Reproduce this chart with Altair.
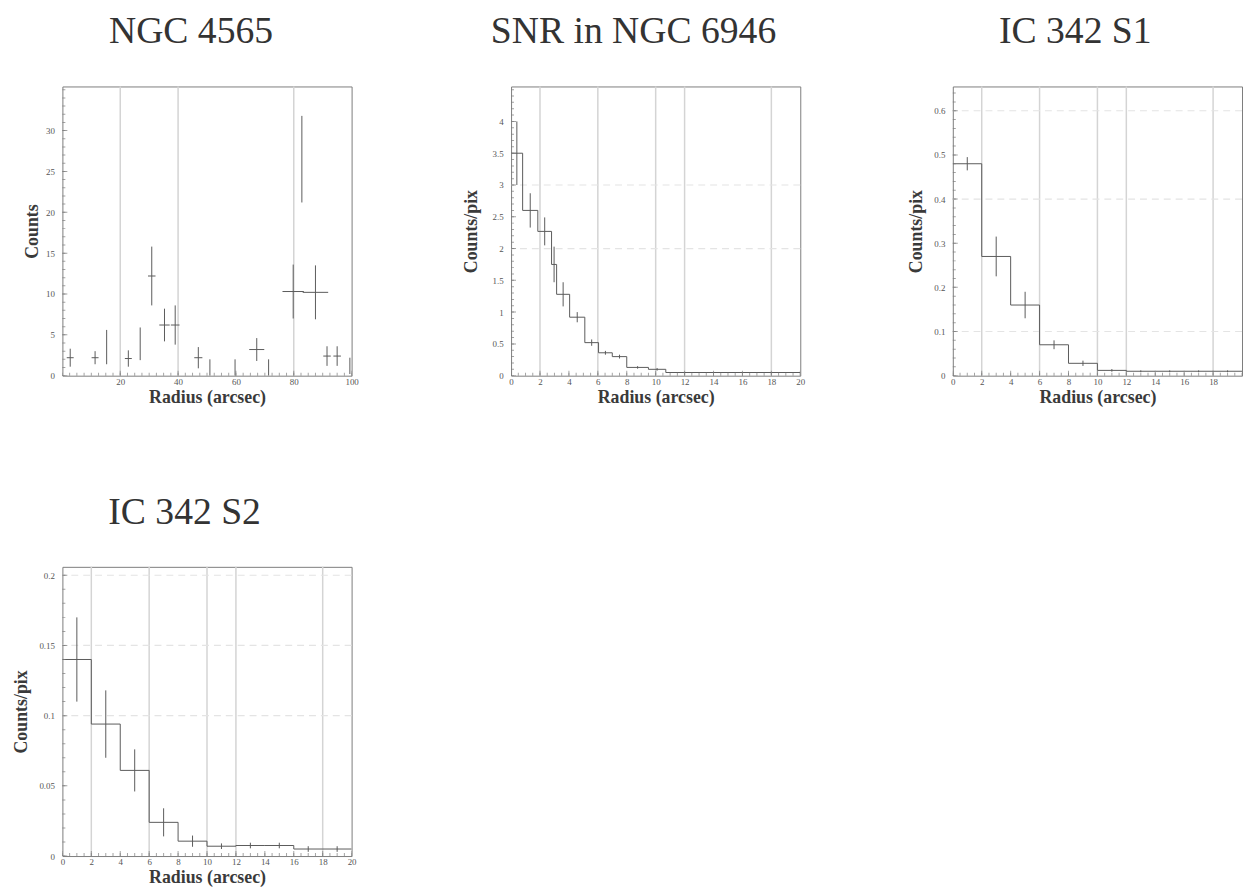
import altair as alt
import pandas as pd

SERIF = "Liberation Serif"
LINE = "#5a5a5a"
FRAME = "#7c7c7c"
GRIDC = "#d4d4d4"

# ---------------- NGC 4565 : counts per annulus ----------------
ngc4565_r   = [2.7, 11.3, 15.3, 22.8, 26.9, 30.9, 35.3, 39.0, 47.0, 51.0, 59.7,
               67.2, 71.3, 79.8, 82.8, 87.5, 91.5, 95.0, 99.4]
ngc4565_hw  = [1.2, 1.2, 0.0, 1.2, 0.0, 1.3, 1.8, 1.5, 1.4, 0.0, 0.0,
               2.6, 0.0, 3.7, 0.0, 4.4, 1.3, 1.3, 0.0]
ngc4565_cts = [2.2, 2.2, 3.5, 2.1, 3.9, 12.2, 6.2, 6.2, 2.2, 1.0, 1.0,
               3.2, 1.0, 10.3, 26.5, 10.2, 2.4, 2.4, 1.2]
ngc4565_err = [1.1, 0.8, 2.1, 1.0, 2.0, 3.6, 2.0, 2.4, 1.3, 1.0, 1.0,
               1.4, 1.0, 3.3, 5.3, 3.3, 1.2, 1.2, 1.0]

# ---------------- SNR in NGC 6946 : counts/pix ----------------
snr_lo  = [0.0, 0.8, 1.85, 2.8, 3.15, 4.05, 5.1, 6.05, 7.0, 8.0, 9.5, 10.7]
snr_hi  = [0.8, 1.85, 2.8, 3.15, 4.05, 5.1, 6.05, 7.0, 8.0, 9.5, 10.7, 20.0]
snr_val = [3.5, 2.6, 2.27, 1.75, 1.28, 0.92, 0.52, 0.36, 0.30, 0.13, 0.10, 0.05]
snr_err = [0.5, 0.27, 0.22, 0.28, 0.19, 0.08, 0.05, 0.03, 0.03, 0.02, 0.02, 0.005]

# ---------------- IC 342 sources : 2" annuli ----------------
ic342_lo = [0, 2, 4, 6, 8, 10, 12, 14, 16, 18]
ic342_hi = [2, 4, 6, 8, 10, 12, 14, 16, 18, 20]
s1_val = [0.48, 0.27, 0.16, 0.07, 0.028, 0.012, 0.010, 0.010, 0.010, 0.010]
s1_err = [0.015, 0.045, 0.03, 0.01, 0.006, 0.003, 0.002, 0.002, 0.002, 0.002]
s2_val = [0.14, 0.094, 0.061, 0.024, 0.0106, 0.007, 0.0075, 0.0075, 0.005, 0.005]
s2_err = [0.03, 0.024, 0.015, 0.01, 0.004, 0.002, 0.002, 0.002, 0.002, 0.002]

# tick labels
ngc4565_xt = [20, 40, 60, 80, 100]
ngc4565_yt = [0, 5, 10, 15, 20, 25, 30]
r20_xt = [0, 2, 4, 6, 8, 10, 12, 14, 16, 18, 20]
snr_yt = [0, 0.5, 1, 1.5, 2, 2.5, 3, 3.5, 4]
s1_yt = [0, 0.1, 0.2, 0.3, 0.4, 0.5, 0.6]
s2_yt = [0, 0.05, 0.1, 0.15, 0.2]

# faint reference lines of the plotting grid
ngc4565_gx = [20, 40, 80]
r20_gx = [2, 6, 10, 12, 18]
snr_gy = [2, 3]
s1_gy = [0.1, 0.4, 0.6]
s2_gy = [0.1, 0.15, 0.2]

W, H = 292, 292


def minor_ticks(lo, hi, step):
    n = int(round((hi - lo) / step))
    return [round(lo + i * step, 6) for i in range(n + 1)]


def panel(title, ytitle, lo, hi, val, err, mid, xdom, ydom, xt, yt,
          xminor, yminor, gx, gy, steps, ytitle_pad):
    df = pd.DataFrame({"lo": lo, "hi": hi, "val": val, "err": err, "mid": mid})
    df["ylo"] = (df["val"] - df["err"]).clip(lower=0)
    df["yhi"] = df["val"] + df["err"]

    xs = alt.Scale(domain=xdom, nice=False, zero=False)
    ys = alt.Scale(domain=ydom, nice=False, zero=False)
    xax = alt.Axis(values=xt, format="~r", ticks=False, domain=False, grid=False,
                   labelFont=SERIF, labelFontSize=9, labelColor="#555",
                   labelPadding=2, labelFlush=False, labelOverlap=False,
                   title="Radius (arcsec)", titleFont=SERIF, titleFontSize=18,
                   titleFontWeight="bold", titleColor="#3a3a3a", titlePadding=2)
    yax = alt.Axis(values=yt, format="~r", ticks=False, domain=False, grid=False,
                   labelFont=SERIF, labelFontSize=9, labelColor="#555",
                   labelPadding=8, labelFlush=False, labelOverlap=False,
                   title=ytitle, titleFont=SERIF, titleFontSize=18,
                   titleFontWeight="bold", titleColor="#3a3a3a",
                   titlePadding=ytitle_pad)

    def X(f):
        return alt.X(f"{f}:Q", scale=xs, axis=xax)

    def Y(f):
        return alt.Y(f"{f}:Q", scale=ys, axis=yax)

    layers = []
    gxdf = pd.DataFrame({"g": gx})
    layers.append(alt.Chart(gxdf).mark_rule(color=GRIDC, strokeWidth=1.5)
                  .encode(x=X("g")))
    if gy:
        gydf = pd.DataFrame({"g": gy})
        layers.append(alt.Chart(gydf).mark_rule(color="#e4e4e4", strokeWidth=1.2,
                                                strokeDash=[7, 5])
                      .encode(y=Y("g")))

    base = alt.Chart(df)
    # horizontal bar across each annulus
    layers.append(base.mark_rule(color=LINE, strokeWidth=1, clip=True)
                  .encode(x=X("lo"), x2="hi", y=Y("val")))
    # vertical error bar
    layers.append(base.mark_rule(color=LINE, strokeWidth=1, clip=True)
                  .encode(x=X("mid"), y=Y("ylo"), y2="yhi"))
    if steps:
        sdf = pd.DataFrame({"edge": hi[:-1], "a": val[:-1], "b": val[1:]})
        layers.append(alt.Chart(sdf).mark_rule(color=LINE, strokeWidth=1, clip=True)
                      .encode(x=X("edge"), y=Y("a"), y2="b"))

    # inward tick marks along bottom and left edges
    tx_major = pd.DataFrame({"t": [v for v in xt]})
    tx_minor = pd.DataFrame({"t": minor_ticks(xdom[0], xdom[1], xminor)})
    ty_major = pd.DataFrame({"t": [v for v in yt]})
    ty_minor = pd.DataFrame({"t": minor_ticks(ydom[0], ydom[1], yminor)})
    layers.append(alt.Chart(tx_minor).mark_tick(orient="vertical", size=6, thickness=1,
                                                color=FRAME, clip=True)
                  .encode(x=X("t"), y=alt.value(H)))
    layers.append(alt.Chart(tx_major).mark_tick(orient="vertical", size=10, thickness=1,
                                                color=FRAME, clip=True)
                  .encode(x=X("t"), y=alt.value(H)))
    layers.append(alt.Chart(ty_minor).mark_tick(orient="horizontal", size=6, thickness=1,
                                                color=FRAME, clip=True)
                  .encode(y=Y("t"), x=alt.value(0)))
    layers.append(alt.Chart(ty_major).mark_tick(orient="horizontal", size=10, thickness=1,
                                                color=FRAME, clip=True)
                  .encode(y=Y("t"), x=alt.value(0)))

    return alt.layer(*layers).properties(
        width=W, height=H,
        title=alt.TitleParams(title, font=SERIF, fontSize=38, fontWeight="normal",
                              color="#333", anchor="middle", frame="bounds",
                              baseline="alphabetic", offset=5),
    )


ngc_lo = [r - h for r, h in zip(ngc4565_r, ngc4565_hw)]
ngc_hi = [r + h for r, h in zip(ngc4565_r, ngc4565_hw)]
p1 = panel("NGC 4565", "Counts", ngc_lo, ngc_hi, ngc4565_cts, ngc4565_err, ngc4565_r,
           [0, 100], [0, 35.4], ngc4565_xt, ngc4565_yt, 2.5, 1, ngc4565_gx, [], False, 4)

snr_mid = [(a + b) / 2 for a, b in zip(snr_lo, snr_hi)]
p2 = panel("SNR in NGC 6946", "Counts/pix", snr_lo, snr_hi, snr_val, snr_err, snr_mid,
           [0, 20], [0, 4.55], r20_xt, snr_yt, 0.5, 0.1, r20_gx, snr_gy, True, 12)

ic_mid = [(a + b) / 2 for a, b in zip(ic342_lo, ic342_hi)]
p3 = panel("IC 342 S1", "Counts/pix", ic342_lo, ic342_hi, s1_val, s1_err, ic_mid,
           [0, 20], [0, 0.655], r20_xt[:-1], s1_yt, 0.5, 0.02, r20_gx, s1_gy, True, 8)

p4 = panel("IC 342 S2", "Counts/pix", ic342_lo, ic342_hi, s2_val, s2_err, ic_mid,
           [0, 20], [0, 0.206], r20_xt, s2_yt, 0.5, 0.01, r20_gx, s2_gy, True, 8)

chart = alt.concat(p1, p2, p3, p4, columns=3, spacing={"row": 86, "column": 103}).properties(
    padding={"left": 12, "top": 8, "right": 0, "bottom": 0},
    background="white",
).configure_view(stroke=FRAME, strokeWidth=1)

chart.save("out.html", embed_options={"renderer": "svg", "actions": False})
